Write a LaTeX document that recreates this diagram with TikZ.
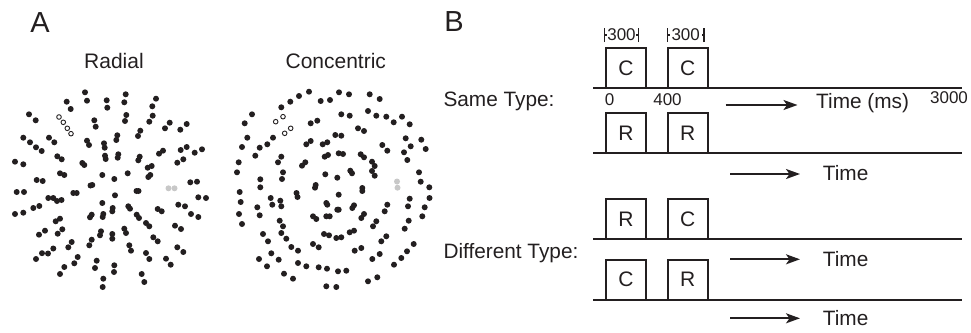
\documentclass[tikz,border=0pt]{standalone}
\usepackage{fontspec}
\setmainfont{Liberation Sans}
\usetikzlibrary{arrows.meta}
\definecolor{ink}{RGB}{35,31,32}
\definecolor{cue}{RGB}{200,200,200}

\begin{document}
\begin{tikzpicture}[x=1pt,y=-1pt,
  panel/.style={font=\fontsize{29}{32}\selectfont, text=ink, inner sep=0pt},
  title/.style={font=\fontsize{21}{24}\selectfont, text=ink, inner sep=0pt},
  lab/.style={font=\fontsize{20.8}{24}\selectfont, text=ink, inner sep=0pt, anchor=west},
  tick/.style={font=\fontsize{17}{19}\selectfont, text=ink, inner sep=0pt},
  dur/.style={font=\fontsize{17}{19}\selectfont, text=ink, inner ysep=0pt},
  stim/.style={draw=ink, line width=1.8pt, minimum size=40pt, inner sep=0pt,
    font=\fontsize{21}{24}\selectfont, text=ink},
  timeline/.style={draw=ink, line width=1.8pt},
  flow/.style={draw=ink, line width=1.8pt, -{Stealth[length=14pt,width=10pt,inset=3.5pt]}},
  bar/.style={draw=ink, line width=1.3pt},
]
\useasboundingbox (0,0) rectangle (971,332);

% ---------------- Panel A ----------------
\node[panel] (pa) at (40,22.5) {A};
\node[title] (trad) at (114,61.3) {Radial};
\node[title] (tcon) at (335.8,61.3) {Concentric};

% radial Glass pattern: dot pairs aligned along rays
\foreach \px/\py in {85/92.3, 87/100.7, 66.7/101.7, 70.7/109, 106.7/100.3, 107.3/107.7,
  125.7/94.3, 124.3/102.3, 156/98.7, 152.3/106.3, 29/114.3, 35.7/120.3, 94.3/120.3,
  95.7/126.7, 126.3/115, 125/121, 152.7/115.7, 149.3/121.7, 169.7/122.7, 165/128.3,
  186.7/124, 180.3/129.7, 23.3/137.7, 30/142.3, 36/147.3, 41.7/151, 49/137.7, 54.3/142.3,
  87/140.7, 89/145, 104/143.3, 104.7/147.7, 117.3/135.3, 116.3/140, 140.3/130.7, 138/136,
  163/150.7, 159/153.7, 186.7/147, 180.7/150, 202/149.3, 194.7/152.7, 15/161.7, 23.3/164.3,
  57.3/156.3, 61.7/159.3, 82.3/163, 84.3/165, 105/155.7, 105.7/159, 118.3/154.3, 117.7/157.7,
  139.7/156.7, 138.3/160.3, 151.7/166, 147.7/167.7, 183.3/159.3, 177.3/162.7, 60/173.3,
  64.3/175, 36.7/180, 42.7/181, 102.3/175, 114.3/179, 127.7/173.3, 150.3/175, 148.3/177,
  92.3/185, 90.5/185.5, 190.3/182.3, 197/181.7,
  16.7/192, 24/192, 48.3/198, 53.3/198, 57/201, 61.5/200, 73.3/193, 76.7/193, 115/195.3,
  136.5/191, 138.5/191, 198.3/197.3, 206/198, 15/214, 23.3/212.7, 33.3/208, 39.3/206,
  102.3/203, 112.7/208, 112.3/211.3, 128.3/206.3, 130/208.7, 157.7/209, 161.7/211.3,
  178.3/204.7, 185/206.3, 191/214, 198.3/217, 60/218.7, 55.7/221.3, 91.7/214.7, 90/217.3,
  103.3/214, 102.7/217, 136.7/214.7, 139/218, 146/223, 149.3/226.3, 175/225.7, 181/229,
  45/230.7, 39/234.7, 62.3/229.3, 57.7/233.7, 101/231.3, 100/235.3, 112.3/234, 112.3/238.7,
  124.3/228.7, 126/233, 153.3/237.3, 157.7/241.3, 71.7/242, 68.3/247.3, 91.7/239.7,
  89.3/245.3, 129.3/245.3, 131/250.7, 177.3/247.3, 183.3/252, 53.3/248.5, 48/253.5,
  42/253.2, 36/259, 77.7/257, 74.3/263.3, 64.3/267, 60/274, 96.7/260.7, 95/268,
  114.3/265.3, 114/272, 146/253, 149.3/259, 166/258.7, 170.7/264.7, 141.7/274, 144.3/282,
  103.3/278.7, 102.7/287}
  \fill[ink] (\px,\py) circle[radius=3.0];
\foreach \px/\py in {59/117, 63.3/122.3, 67.3/128.3, 71/133.7}
  \draw[ink, line width=0.9pt, fill=white] (\px,\py) circle[radius=2.3];
\foreach \px/\py in {168.5/188.3, 174.5/188.3}
  \fill[cue] (\px,\py) circle[radius=3.0];

% concentric Glass pattern: dot pairs aligned along circles
\foreach \px/\py in {309/91.7, 299/96, 290.3/101.7, 281.3/107.3, 320.7/101, 330/100,
  339/92.3, 349/94.3, 369.7/94.3, 379.7/99, 252/114.3, 244.7/123.3, 310.7/123.3,
  317.3/120.7, 341.3/114.3, 349.7/115.7, 368/111, 376.3/115.7, 386.3/116.7, 393.7/122.3,
  402/116.7, 409.7/124.3, 247.3/137.7, 242/147, 273/137.7, 267.3/144.3, 259.7/147.7,
  255.3/155.7, 358/128.3, 364/131, 335.3/135, 341.3/135.7, 310.7/141, 306.3/144.3,
  327.3/142.3, 322.7/144.3, 382.3/145, 387.3/150.7, 405.7/138.3, 410.7/146.3, 421.3/139.7,
  425.7/149, 404/152.3, 407.3/160, 281.3/156.7, 278/162.3, 305.3/162.3, 302/165.7,
  328/155, 324.7/156.7, 338.7/153.3, 343/154, 360.7/154.3, 364/157.3, 372/161.7,
  374.7/166, 238.7/162.3, 237/172.3, 283/172.3, 282/179, 325.3/174.3, 337.3/177.7,
  350.3/170.7, 352/173.3, 372/171, 374.7/175.7, 419/172.3, 420.7/181.7, 429.3/187.3,
  260.3/179.3, 260.3/187.3, 315.7/185, 315/187.7, 362.3/188, 362.3/191,
  239.7/192, 296.5/193, 297.5/197, 338.7/194.7, 429.5/198, 240.7/202, 270.7/198,
  280.3/200.7, 272.3/204.7, 281.3/206.3, 257.3/207.3, 259.7/215.3, 326.3/203, 327.3/204.7,
  337.3/209.7, 338.7/209.7, 354/205.3, 352.3/208, 387.3/204.7, 384.7/211.3, 409.7/198.7,
  408/206.3, 424.7/207.3, 239/214, 242/224, 313/216.3, 316.3/219, 326.3/216.3,
  329.7/216.3, 364/214, 361.3/218, 376.3/221.3, 373/226.3, 279.7/220.7, 283/226.3,
  408.7/220.7, 404.7/228.7, 422.3/216.3, 263/234, 268/241.3, 281.3/233, 286.3/238.7,
  324/234, 329/235.3, 336.3/238, 341.3/237.3, 349.7/232.3, 354/230.7, 386.3/236.3,
  381.3/241.3, 413.7/244, 407/251.3, 401.3/258, 394/264.7, 313/244, 318.7/247.3,
  291.3/247, 298/250.7, 271.3/253.3, 278.7/259.7, 259/259, 267/266.3, 354.7/250.7,
  361.3/248, 379.7/254, 372.3/259, 298/263, 306.3/266.3, 318.7/267.3, 327/268.7,
  338/271.3, 346.3/270.7, 284/273.7, 293/278.7, 368/281.3, 377.3/277.3, 326.3/286.3,
  336.3/287}
  \fill[ink] (\px,\py) circle[radius=3.0];
\foreach \px/\py in {275.7/121.7, 283/116.7, 284.7/133.3, 290.7/128.3}
  \draw[ink, line width=0.9pt, fill=white] (\px,\py) circle[radius=2.3];
\foreach \px/\py in {397/181.5, 397.5/187.7}
  \fill[cue] (\px,\py) circle[radius=3.0];

% ---------------- Panel B ----------------
\node[panel] (pb) at (454,22) {B};

\node[lab] (same) at (443.3,101) {Same Type:};
\node[lab] (diff) at (443.3,253.3) {Different Type:};

% timelines
\coordinate (t1s) at (593.3,88.3);  \coordinate (t1e) at (961.7,88.3);
\coordinate (t2s) at (593.3,153.3); \coordinate (t2e) at (961.7,153.3);
\coordinate (t3s) at (593.3,239.3); \coordinate (t3e) at (961.7,239.3);
\coordinate (t4s) at (593.3,300);   \coordinate (t4e) at (961.7,300);
\foreach \s/\e in {t1s/t1e, t2s/t2e, t3s/t3e, t4s/t4e}
  \draw[timeline] (\s) -- (\e);

% stimulus intervals
\node[stim] (c1a) at (626,68.3) {C};
\node[stim] (c1b) at (687.7,68.3) {C};
\node[stim] (r2a) at (626,133.3) {R};
\node[stim] (r2b) at (687.7,133.3) {R};
\node[stim] (r3a) at (626,219.3) {R};
\node[stim] (c3b) at (687.7,219.3) {C};
\node[stim] (c4a) at (626,279.7) {C};
\node[stim] (r4b) at (687.7,279.7) {R};

% duration markers
\node[dur, inner xsep=2.5pt] (d1) at (621.5,35) {300};
\node[dur, inner xsep=4pt] (d2) at (685.7,35) {300};
\foreach \d in {d1,d2} {
  \draw[bar] ([yshift=-7pt]\d.west) -- ([yshift=7pt]\d.west);
  \draw[bar] ([yshift=-7pt]\d.east) -- ([yshift=7pt]\d.east);
  \draw[bar] (\d.west) -- ([xshift=2.5pt]\d.west);
  \draw[bar] (\d.east) -- ([xshift=-2.5pt]\d.east);
}

% time axis labels
\node[tick] (z0) at (609.7,100) {0};
\node[tick] (z400) at (667.5,100) {400};
\node[tick] (z3000) at (949,98) {3000};

% time arrows
\coordinate (a1s) at (725.5,105);   \coordinate (a1e) at (797.5,105);
\coordinate (a2s) at (730,174);     \coordinate (a2e) at (800,174);
\coordinate (a3s) at (730,259.3);   \coordinate (a3e) at (800,259.3);
\coordinate (a4s) at (730,318.3);   \coordinate (a4e) at (800,318.3);
\foreach \s/\e in {a1s/a1e, a2s/a2e, a3s/a3e, a4s/a4e}
  \draw[flow] (\s) -- (\e);

\node[lab] (tm1) at (816,103.3) {Time (ms)};
\node[lab] (tm2) at (822.7,173.3) {Time};
\node[lab] (tm3) at (822.7,259) {Time};
\node[lab] (tm4) at (822.7,318) {Time};
\end{tikzpicture}
\end{document}
